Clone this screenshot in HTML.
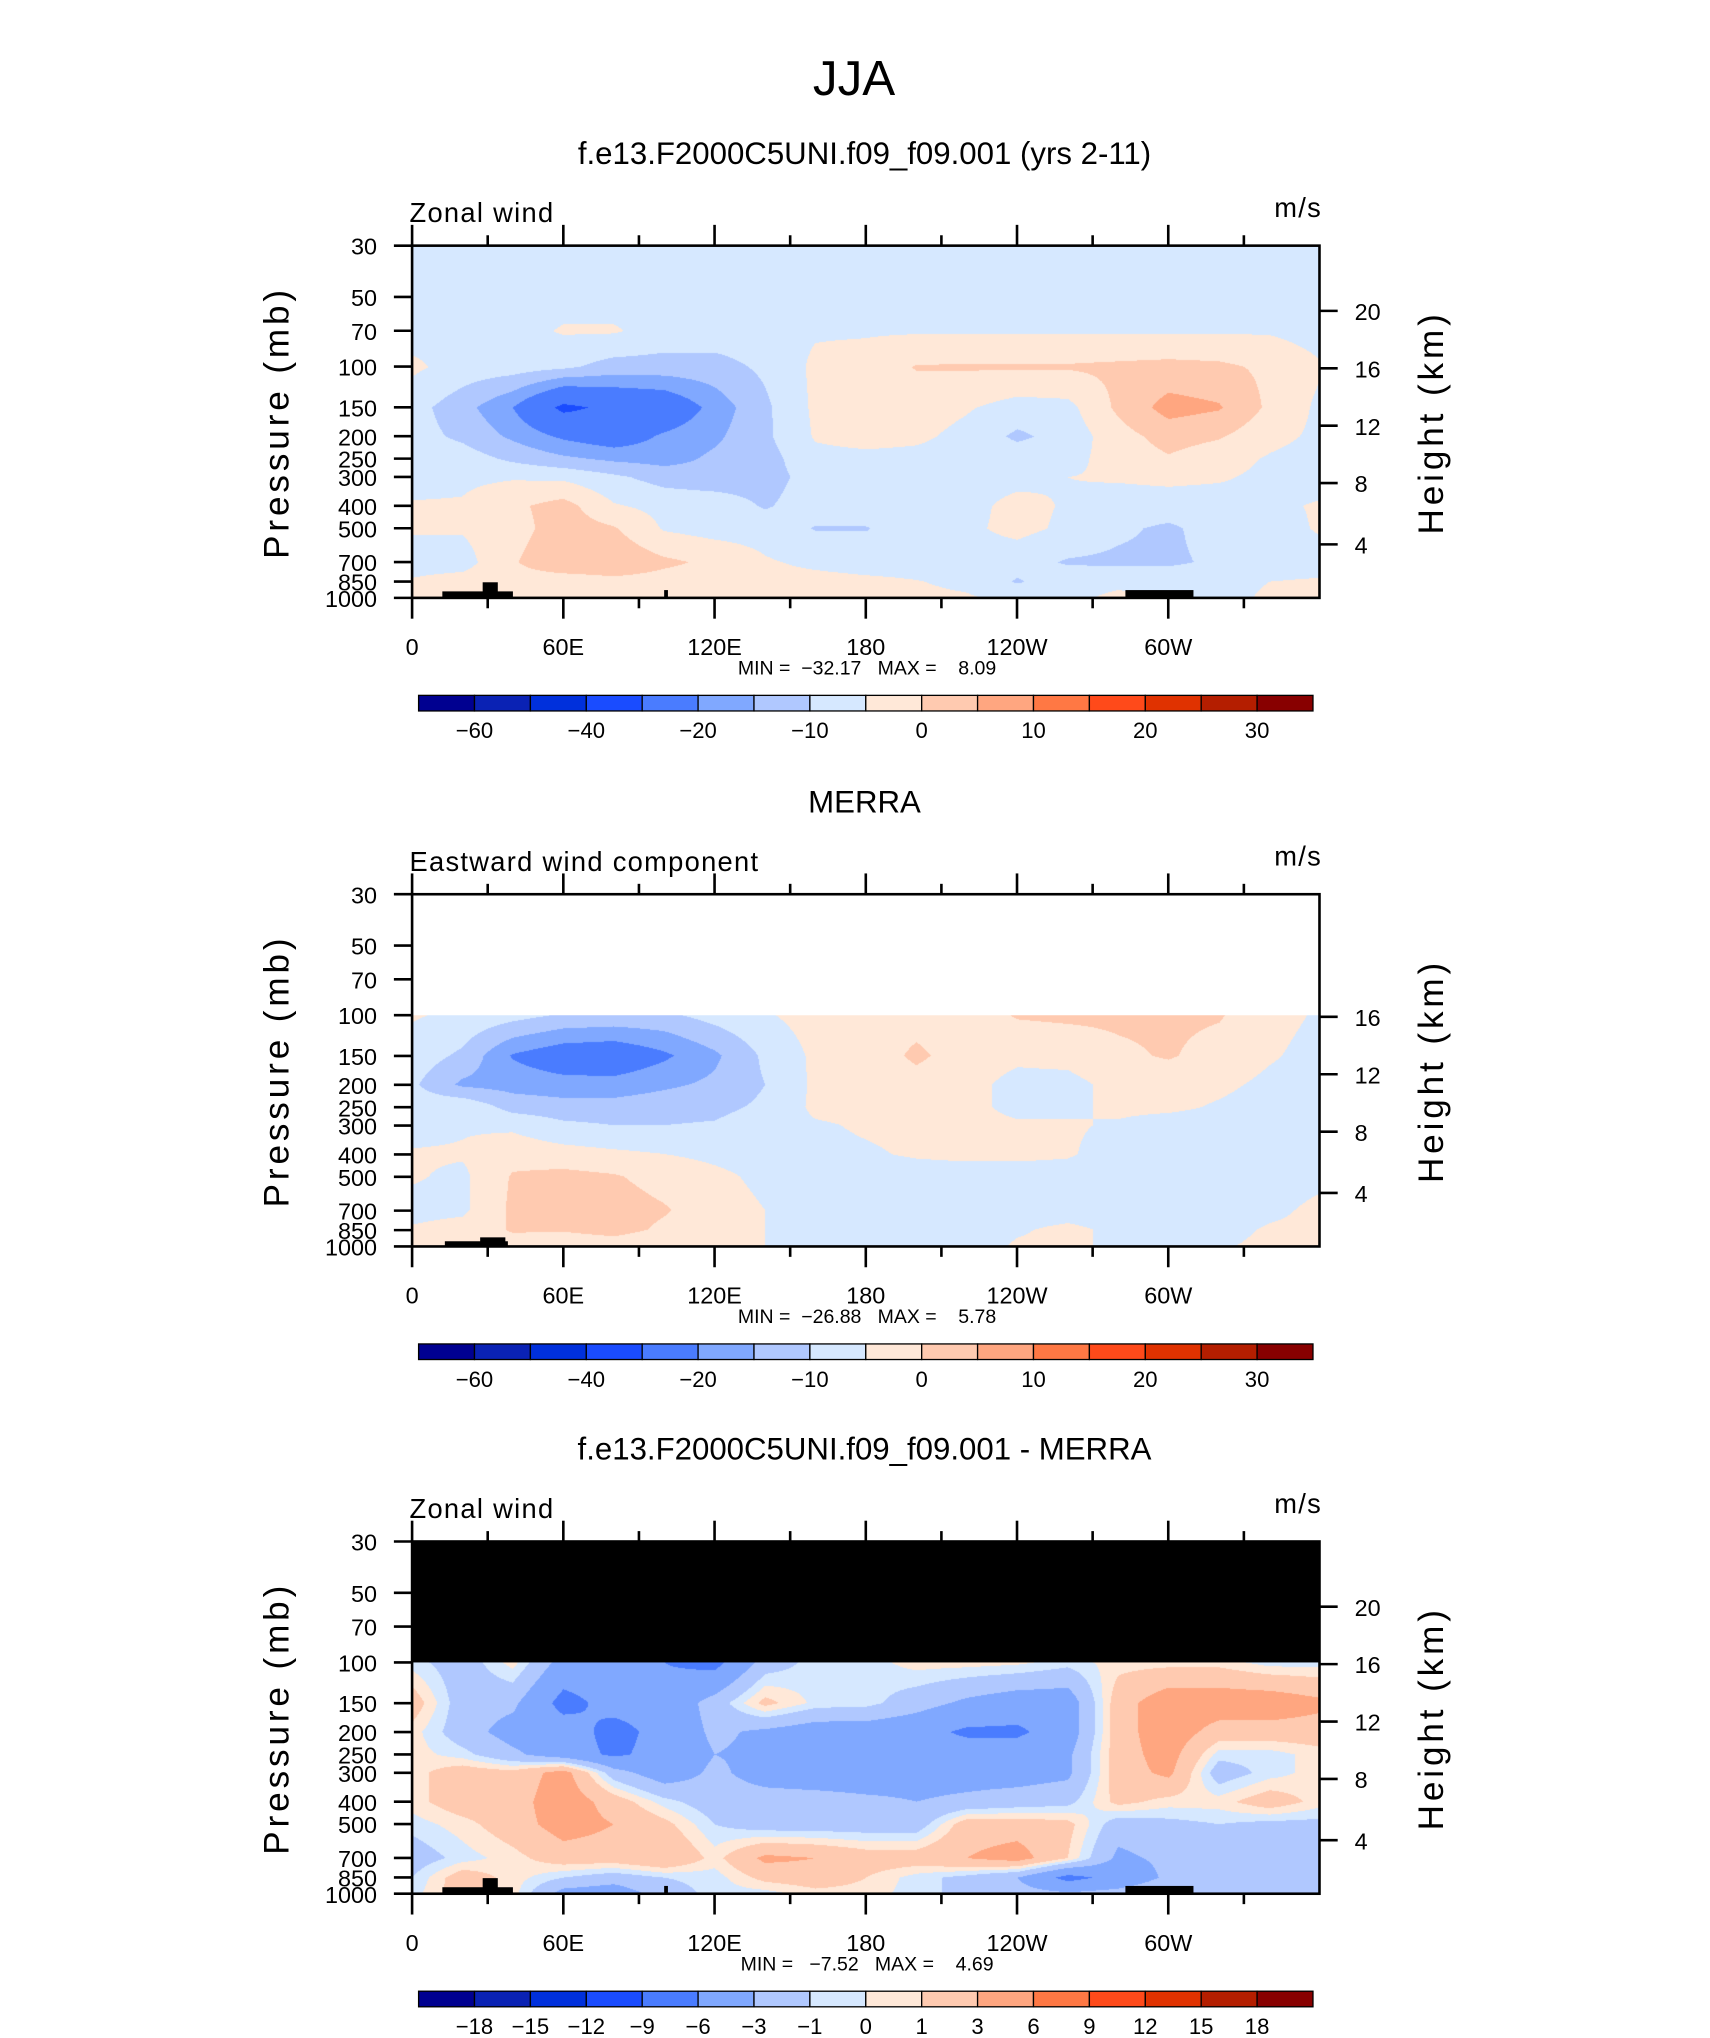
<!DOCTYPE html>
<html><head><meta charset="utf-8"><title>JJA zonal wind</title>
<style>
html,body{margin:0;padding:0;background:#fff;}
#wrap{position:relative;width:1710px;height:2038px;overflow:hidden;background:#fff;}
canvas{position:absolute;}
svg{position:absolute;left:0;top:0;}
text{font-family:"Liberation Sans",sans-serif;fill:#000;}
</style></head>
<body>
<div id="wrap">
<canvas id="c1"></canvas>
<canvas id="c2"></canvas>
<canvas id="c3"></canvas>
<svg id="svg" width="1710" height="2038" viewBox="0 0 1315.4 1568" preserveAspectRatio="none"></svg>
</div>
<script>
const lons = [0,20,40,60,80,100,120,140,160,180,200,220,240,260,280,300,320,340,360];
const levelsFull = [30,50,70,100,150,200,250,300,400,500,700,850,1000];
const levelsLow = [100,150,200,250,300,400,500,700,850,1000];
const modelU = [
[-7,-7,-7,-7,-7,-7,-7,-7,-7,-7,-7,-7,-7,-7,-7,-7,-7,-7,-7],
[-7,-7,-7,-7,-7,-7,-7,-7,-7,-7,-7,-7,-7,-7,-7,-7,-7,-7,-7],
[-7,-7,-7,-4.5,-4.5,-7,-7,-7,-5.5,-5.5,-5.5,-5.5,-5.5,-5.5,-5.5,-5.5,-5.5,-5.5,-7],
[-4,-7,-7.5,-9,-12,-12,-12,-9,-4,-3,0.3,0.5,0.5,0.5,1,1.5,1,-1,-4.5],
[-8,-13,-20,-32,-28,-26,-18,-11,-4,-3,-2.5,-4.5,-7,-6.5,1,7,5.5,-1,-6],
[-8,-11,-16,-21,-24,-19,-16,-11,-4.5,-3,-4,-6.5,-11,-8,-2,2,0.5,-3.5,-6],
[-7,-7.5,-11,-14,-16,-17,-14,-12,-6.5,-6.5,-6.5,-7,-7,-6.5,-3,-0.5,-3,-5.5,-7],
[-7,-6,-5.5,-6,-9,-12,-13,-12,-8,-7,-7,-7,-6.5,-5,-4.5,-4,-4.5,-6,-7],
[-4.5,-4.5,-1,2,-4.5,-6.5,-7,-10.5,-7.5,-7,-7,-6.5,-3.5,-5.5,-7,-7,-7,-6,-4.5],
[-4.5,-4.5,-2,2.5,0.5,-5.5,-7,-7,-10.3,-10.3,-7,-6,-3.5,-6,-9,-11,-7.5,-7,-4.5],
[-7,-7,-0.5,4,4,1,-1,-4.5,-6,-7,-7,-7,-8,-10.5,-11,-11,-9,-7,-7],
[-4.5,-3,-2,-3,-1.5,-2,-3,-3.5,-3.5,-4,-4.8,-6,-10.5,-7,-6,-6,-7,-5,-4.5],
[-4.5,-3,-3,-3,-3,-3,-3,-3,-3.5,-3.5,-4,-4.5,-6,-6,-4,-6,-7,-4,-4.5]
];
const merraU = [
[-4.5,-6,-8,-10.5,-11,-11,-8,-5.5,-3,-3,-2,-3,0.5,1,1,1,0.5,-3.5,-5.5],
[-7,-11,-20.5,-24,-25,-21,-16,-9,-4,-3,1,-2.5,-4,-3.5,-1,0.5,-2,-4.5,-6.5],
[-9,-16,-17,-18,-18,-16,-14,-10,-4,-3.5,-2,-3.5,-6.5,-6.5,-3.5,-3,-4,-6,-7],
[-7.5,-6,-12,-13,-13,-12,-11.5,-9,-4,-3.5,-3.5,-4,-6,-6,-4,-4,-5.5,-7,-7],
[-7,-5.5,-6,-9,-10,-10,-9.5,-7,-5.5,-4.5,-4,-4,-4.5,-4.5,-5.5,-7,-7,-7,-7],
[-4.5,-4.5,-2,-3,-4,-5,-6,-7,-6,-5.5,-4.5,-4,-4,-4.5,-7,-7,-7,-7,-6],
[-4.5,-6,0.5,1.5,0.5,-2,-4,-6,-7,-7,-7,-7,-7,-7,-7,-7,-7,-7,-6],
[-6.5,-6,1,1.5,2.5,0.5,-3,-5,-6.5,-7,-7,-7,-7,-7,-7,-7,-7,-6,-4],
[-4.5,-3,0.5,0.5,2,-1,-4,-5,-6,-7,-7,-7,-5.5,-4,-6,-7,-6.5,-4.5,-4],
[-3,-3,-2,-3.5,-3,-4,-4.5,-5,-6,-6.5,-7,-7,-4.5,-4,-6,-7,-5.5,-4,-3]
];
const diffU = [
[-0.5,-2,0.5,-4,-4.5,-6,-7,-2,-0.5,-0.5,0.5,0.5,0.3,-0.5,0.5,0.5,0.5,-0.5,-0.5],
[2,-2,-2.5,-7,-5,-5,-2,1.5,-0.3,-0.5,-2,-3.5,-4.5,-4.5,2,4.5,4.5,4.5,3.5],
[0.5,-2,-4,-4.5,-7,-5,-2.5,-3.5,-4.5,-4.5,-5,-6.5,-6.5,-4.5,2,4.5,2,2,2],
[0.5,-0.5,-2.5,-4.5,-6.5,-5,-3,-3.5,-4.5,-4.5,-4.5,-4.5,-4.5,-3.5,2,4,-0.5,-0.5,0.5],
[0.5,2,1.5,4,-2,-4.5,-2.5,-4,-4.5,-4.5,-4,-4,-4,-3.5,2,3.5,-2,-0.5,0.5],
[0.5,2,2,4.5,2,-0.5,-2,-2,-2,-2.5,-3,-2.5,-2,-1.5,1.5,0.5,0.5,2,0.5],
[-0.5,0.5,2,4,3,1.5,-1,-2,-2,-2,-2,2,2,1.5,-2,-1.5,-1,-1.5,-1.5],
[-2,-0.5,0.5,2,2,3,0.5,3.5,3,2,2,3,4,1,-3.5,-2.5,-2.5,-2.5,-2.5],
[-1,2,0.5,-1,-2,-1,-0.5,1.5,2,1,-0.5,-1.5,-3,-7,-5,-2.5,-2,-2.5,-2],
[-0.5,2,0.5,-4,-4.5,-2,-0.5,-0.5,0.5,0.5,-0.5,-1.5,-2,-2.5,-2,-1,-2,-1.5,-1]
];
const boundsWind = [-60,-50,-40,-30,-20,-15,-10,-5,0,5,10,15,20,25,30];
const boundsDiff = [-18,-15,-12,-9,-6,-3,-1,0,1,3,6,9,12,15,18];
const cbLabelsWind = ["-60","","-40","","-20","","-10","","0","","10","","20","","30"];
const cbLabelsDiff = ["-18","-15","-12","-9","-6","-3","-1","0","1","3","6","9","12","15","18"];
const palette = ["#000090","#0a22b4","#0030dc","#1a4cff","#4a7cff","#80a8ff","#b0c8ff","#d6e8ff","#ffe8d8","#ffcab0","#ffa680","#ff7844","#ff4a1a","#e03200","#b41e00","#880000"];
const lonLabels = ["0","60E","120E","180","120W","60W"];
const pLabels = ["30","50","70","100","150","200","250","300","400","500","700","850","1000"];

const SX = 1.3, SY = 2038/1568;
const PL = 317, PR = 1015, PH = 271;
const lnTop = Math.log(30), lnBot = Math.log(1000);
function xOfLon(l){ return PL + l/360*(PR-PL); }
function yOfP(p, top){ return top + (Math.log(p)-lnTop)/(lnBot-lnTop)*PH; }
function colorIdx(v, b){ let i=0; while(i<b.length && v>=b[i]) i++; return i; }
function hexRgb(h){ return [parseInt(h.substr(1,2),16),parseInt(h.substr(3,2),16),parseInt(h.substr(5,2),16)]; }
const palRgb = palette.map(hexRgb);

function field(lonv, p, levels, grid){
  const lp = Math.log(p);
  let r = 0;
  while (r < levels.length-2 && Math.log(levels[r+1]) < lp) r++;
  const l0 = Math.log(levels[r]), l1 = Math.log(levels[r+1]);
  let ty = (lp-l0)/(l1-l0); ty = Math.max(0,Math.min(1,ty));
  let c = Math.min(lons.length-2, Math.floor(lonv/20));
  let tx = (lonv - lons[c])/20;
  const a = grid[r][c]*(1-tx)+grid[r][c+1]*tx;
  const b = grid[r+1][c]*(1-tx)+grid[r+1][c+1]*tx;
  return a*(1-ty)+b*ty;
}
function drawField(id, top, levels, grid, bounds, aboveColor){
  const cv = document.getElementById(id);
  const x0 = Math.round(PL*SX), y0 = Math.round(top*SY);
  const w = Math.round(PR*SX)-x0, h = Math.round((top+PH)*SY)-y0;
  cv.width = w; cv.height = h;
  cv.style.left = x0+'px'; cv.style.top = y0+'px';
  const ctx = cv.getContext('2d');
  const img = ctx.createImageData(w,h);
  for (let j=0;j<h;j++){
    const p = Math.exp(lnTop + (j+0.5)/h*(lnBot-lnTop));
    for (let i=0;i<w;i++){
      let rgb;
      if (p < levels[0]) rgb = aboveColor;
      else {
        const v = field((i+0.5)/w*360, p, levels, grid);
        rgb = palRgb[colorIdx(v,bounds)];
      }
      const k = (j*w+i)*4;
      img.data[k]=rgb[0]; img.data[k+1]=rgb[1]; img.data[k+2]=rgb[2]; img.data[k+3]=255;
    }
  }
  ctx.putImageData(img,0,0);
}

const NS = "http://www.w3.org/2000/svg";
const svg = document.getElementById('svg');
function el(tag, attrs, parent){
  const e = document.createElementNS(NS, tag);
  for (const k in attrs) e.setAttribute(k, attrs[k]);
  (parent||svg).appendChild(e);
  return e;
}
function txt(str, x, y, size, anchor, parent, extra){
  const t = el('text', Object.assign({x:x, y:y, 'font-size':size, 'text-anchor':anchor||'start'}, extra||{}), parent);
  t.textContent = str;
  return t;
}

const mainTitle = txt("JJA", 657, 73, 38, 'middle');



function panel(opt){
  const top = opt.top;
  const g = el('g', {});
  
  
  const t = txt(opt.title, 665, top-63, 24, 'middle', g);
  
  
  const lt = txt(opt.left, 315, top-18, 21, 'start', g, {'letter-spacing':'1'});
  
  
  const ut = txt("m/s", 1017, top-22, 21, 'end', g, {'letter-spacing':'1'});
  
  
  if (opt.topRect) {
    const r = el('rect', {x:PL, y:top, width:PR-PL, height:yOfP(100,top)-top, fill:opt.topRect}, g);
    
    
  }
  const topo = opt.smallTopo ? [[13,38,456,460],[27,37,453,460]] : [[12,40,455,460],[28,34,448,460],[100,101.5,454,460],[283,310,454,460]];
  topo.forEach(function(tp){
    const r = el('rect', {x:xOfLon(tp[0]), y:top+(tp[2]-189), width:(tp[1]-tp[0])/360*(PR-PL), height:tp[3]-tp[2], fill:'#000'}, g);
    
    
  });
  const box = el('rect', {x:PL, y:top, width:PR-PL, height:PH, fill:'none', stroke:'#000', 'stroke-width':2}, g);
  
  
  for (let l=0; l<=330; l+=30){
    const x = xOfLon(l), major = (l%60===0);
    const len = major?16:8;
    const a = el('line', {x1:x, x2:x, y1:top, y2:top-len, stroke:'#000','stroke-width':2}, g);
    
    
    const b = el('line', {x1:x, x2:x, y1:top+PH, y2:top+PH+len, stroke:'#000','stroke-width':2}, g);
    
    
  }
  lonLabels.forEach(function(s, i){
    const lb = txt(s, xOfLon(i*60), top+PH+44, 18, 'middle', g);
    
    
  });
  levelsFull.forEach(function(p, i){
    const y = yOfP(p, top);
    const tk = el('line', {x1:PL-14, x2:PL, y1:y, y2:y, stroke:'#000','stroke-width':2}, g);
    
    
    const lb = txt(pLabels[i], 290, y+7, 18, 'end', g);
    
    
  });
  opt.heights.forEach(function(z){
    const p = 1000*Math.exp(-z/7);
    const y = yOfP(p, top) + (z===4?3:0);
    const tk = el('line', {x1:PR, x2:PR+14, y1:y, y2:y, stroke:'#000','stroke-width':2}, g);
    
    
    const lb = txt(String(z), 1042, y+7, 18, 'start', g);
    
    
  });
  const yl = txt("Pressure (mb)", 0, 0, 27, 'middle', g, {transform:'translate(222,'+(top+136)+') rotate(-90)', 'letter-spacing':'3'});
  
  
  const yr = txt("Height (km)", 0, 0, 27, 'middle', g, {transform:'translate(1110,'+(top+136)+') rotate(-90)', 'letter-spacing':'3'});
  
  
  const mm = txt(opt.minmax, 667, top+PH+59, 15, 'middle', g, {style:'white-space:pre'});
  
  
  const cb = el('g', {}, g);
  
  
  const cy = top+346, bw = 43;
  palette.forEach(function(c, i){
    const r = el('rect', {x:322+bw*i, y:cy, width:bw, height:12, fill:c, stroke:'#000', 'stroke-width':1}, cb);
    
    
  });
  opt.cbLabels.forEach(function(s, i){
    if (!s) return;
    const lb = txt(s.replace('-', '\u2212'), 322+bw*(i+1), cy+33, 17, 'middle', cb);
    
    
  });
}

panel({name:'panel-model', top:189, title:"f.e13.F2000C5UNI.f09_f09.001 (yrs 2-11)", left:"Zonal wind",
  heights:[20,16,12,8,4], minmax:"MIN =  \u221232.17   MAX =    8.09", cbLabels:cbLabelsWind});
panel({name:'panel-merra', top:688, title:"MERRA", left:"Eastward wind component", topRect:'#fff', smallTopo:true,
  heights:[16,12,8,4], minmax:"MIN =  \u221226.88   MAX =    5.78", cbLabels:cbLabelsWind});
panel({name:'panel-difference', top:1186, title:"f.e13.F2000C5UNI.f09_f09.001 - MERRA", left:"Zonal wind", topRect:'#000',
  heights:[20,16,12,8,4], minmax:"MIN =   \u22127.52   MAX =    4.69", cbLabels:cbLabelsDiff});

drawField('c1', 189, levelsFull, modelU, boundsWind, [255,255,255]);
drawField('c2', 688, levelsLow, merraU, boundsWind, [255,255,255]);
drawField('c3', 1186, levelsLow, diffU, boundsDiff, [0,0,0]);
</script>
</body></html>
